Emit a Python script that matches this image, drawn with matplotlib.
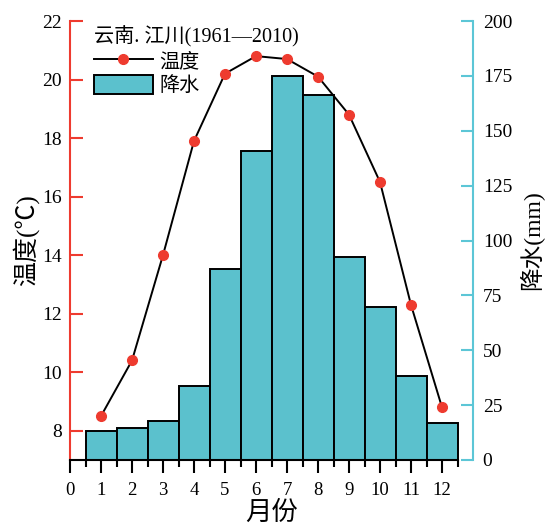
import numpy as np
import matplotlib
matplotlib.use('Agg')
import matplotlib.pyplot as plt
from matplotlib.patches import Patch
from matplotlib.lines import Line2D
from matplotlib.font_manager import FontProperties

months = [1, 2, 3, 4, 5, 6, 7, 8, 9, 10, 11, 12]
temp = [8.5, 10.4, 14.0, 17.9, 20.2, 20.8, 20.7, 20.1, 18.8, 16.5, 12.3, 8.8]
precip = [13.3, 14.7, 17.9, 33.7, 87.0, 140.8, 175.1, 166.4, 92.3, 69.6, 38.3, 16.7]
temp_ticks = [8, 10, 12, 14, 16, 18, 20, 22]
precip_ticks = [0, 25, 50, 75, 100, 125, 150, 175, 200]
month_ticks = list(range(0, 13))

title_txt = '云南. 江川(1961—2010)'
fam = ['Liberation Serif', 'Noto Sans CJK SC']

red = '#ee3b2f'
cyan = '#5cc6d6'
bar_col = '#5bc1cd'

plt.rcParams['font.family'] = fam

fig = plt.figure(figsize=(5.45, 5.26), dpi=100)
ax = fig.add_axes([70 / 545, 66 / 526, 403 / 545, 439 / 526])
ax2 = ax.twinx()
ax.set_zorder(ax2.get_zorder() + 1)
ax.patch.set_visible(False)

# precipitation bars (right axis)
ax2.bar(months, precip, width=1.0, color=bar_col, edgecolor='black', linewidth=1.4)
ax2.set_ylim(0, 200)
ax2.set_yticks(precip_ticks)

# temperature (left axis)
ax.plot(months, temp, '-', color='black', lw=1.4, zorder=2)
ax.plot(months, temp, 'o', color=red, ms=7, zorder=3)
ax.set_ylim(7, 22)
ax.set_yticks(temp_ticks)
ax.set_xlim(0, 13)
ax.set_xticks(month_ticks)
ax.set_xticks(np.arange(0.5, 13, 1.0), minor=True)

for a in (ax, ax2):
    a.spines['top'].set_visible(False)
ax.spines['right'].set_visible(False)
ax2.spines['left'].set_visible(False)
ax2.spines['bottom'].set_visible(False)
ax.spines['left'].set_color(red)
ax.spines['left'].set_linewidth(1.5)
ax.spines['bottom'].set_linewidth(1.5)
ax.spines['bottom'].set_bounds(0, 12.5)
ax2.spines['right'].set_color(cyan)
ax2.spines['right'].set_linewidth(1.5)

ax.tick_params(axis='y', direction='in', length=9, width=1.5, color=red,
               labelsize=14, pad=6)
ax.tick_params(axis='x', which='major', direction='out', length=9, width=1.5,
               labelsize=13.5, pad=7)
ax.tick_params(axis='x', which='minor', direction='out', length=5, width=1.5)
ax2.tick_params(axis='y', direction='in', length=9, width=1.5, color=cyan,
                labelsize=14, pad=7)

ax.set_ylabel('温度(℃)', fontsize=18, labelpad=2)
ax2.set_ylabel('降水(mm)', fontsize=17, labelpad=5)
ax.set_xlabel('月份', fontsize=19, labelpad=1)

handles = [Line2D([], [], color='black', lw=1.4, marker='o', mfc=red, mec=red, ms=7),
           Patch(facecolor=bar_col, edgecolor='black', linewidth=1.4)]
leg = ax.legend(handles, ['温度', '降水'], loc='upper left', bbox_to_anchor=(0.04, 1.006),
                frameon=False, title=title_txt, alignment='left',
                prop=FontProperties(family=fam, size=14.5),
                title_fontproperties=FontProperties(family=fam, size=14.5),
                handlelength=2.9, handleheight=1.15, handletextpad=0.35,
                labelspacing=0.12, borderaxespad=0)

fig.savefig('out.png', dpi=100)
